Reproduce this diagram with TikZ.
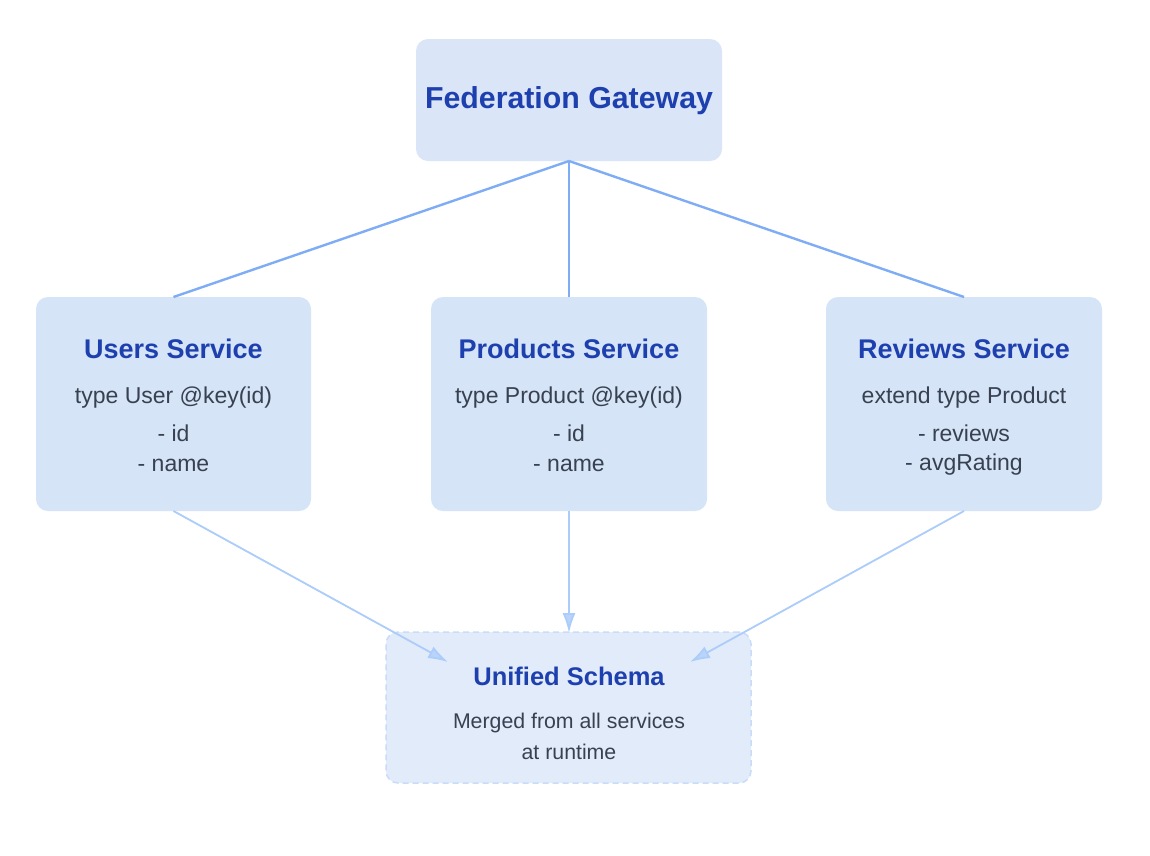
\documentclass[tikz,border=0pt]{standalone}
\usepackage{fontspec}
\setmainfont{Liberation Sans}
\usetikzlibrary{arrows.meta}
\definecolor{boxfill}{HTML}{D6E4F7}
\definecolor{gwfill}{HTML}{DAE5F8}
\definecolor{unifill}{HTML}{E1EBFA}
\definecolor{uniborder}{HTML}{C9DCF8}
\definecolor{titlecol}{HTML}{1E40AF}
\definecolor{bodycol}{HTML}{374151}
\definecolor{topline}{HTML}{7FADF5}
\definecolor{botline}{HTML}{ACCCF9}
\tikzset{
  card/.style={draw=none, fill=boxfill, rounded corners=12pt, inner sep=0pt},
  ttl/.style={text=titlecol, font=\fontsize{27}{32}\selectfont\bfseries, inner sep=0pt, anchor=center},
  bdy/.style={text=bodycol, font=\fontsize{23}{27}\selectfont, inner sep=0pt, anchor=center},
  ubdy/.style={text=bodycol, font=\fontsize{21.3}{25}\selectfont, inner sep=0pt, anchor=center},
  link/.style={draw=topline, line width=2.4pt},
  flow/.style={draw=botline, line width=1.8pt, -{Latex[length=20pt,width=13pt,fill=botline!85!white]}},
}
\begin{document}
\begin{tikzpicture}[x=1pt,y=-1pt]
\useasboundingbox (0,0) rectangle (1150,855);
\fill[white] (0,0) rectangle (1150,855);
% boxes
\node[card, fill=gwfill, minimum width=306pt, minimum height=122pt] (gw) at (569,100) {};
\node[card, minimum width=275pt, minimum height=214pt] (us) at (173.5,404) {};
\node[card, minimum width=276pt, minimum height=214pt] (ps) at (569,404) {};
\node[card, minimum width=276pt, minimum height=214pt] (rs) at (964,404) {};
\node[card, fill=unifill, draw=uniborder, dashed, dash pattern=on 6pt off 4pt, line width=1.5pt, minimum width=365pt, minimum height=151pt] (un) at (568.5,707.5) {};
% connector endpoints
\coordinate (gwb) at (569,161);
\coordinate (ust) at (173.5,297);
\coordinate (pst) at (569,297);
\coordinate (rst) at (964,297);
\coordinate (usb) at (173.5,511);
\coordinate (psb) at (569,511);
\coordinate (rsb) at (964,511);
\coordinate (unl) at (448,662);
\coordinate (unt) at (569,633);
\coordinate (unr) at (690,662);
\draw[link] (gwb) -- (ust);
\draw[link] (gwb) -- (pst);
\draw[link] (gwb) -- (rst);
\draw[flow] (usb) -- (unl);
\draw[flow] (psb) -- (unt);
\draw[flow] (rsb) -- (unr);
% texts
\node[ttl, font=\fontsize{30.3}{35}\selectfont\bfseries] (gwt) at (569,101) {Federation Gateway};
\node[ttl] (ust1) at (173.5,349) {Users Service};
\node[bdy] (usb1) at (173.5,398) {type User @key(id)};
\node[bdy] (usb2) at (173.5,433) {- id};
\node[bdy] (usb3) at (173.5,465) {- name};
\node[ttl] (pst1) at (569,349) {Products Service};
\node[bdy] (psb1) at (569,398) {type Product @key(id)};
\node[bdy] (psb2) at (569,433) {- id};
\node[bdy] (psb3) at (569,465) {- name};
\node[ttl] (rst1) at (964,349) {Reviews Service};
\node[bdy] (rsb1) at (964,398) {extend type Product};
\node[bdy] (rsb2) at (964,433) {- reviews};
\node[bdy] (rsb3) at (964,465) {- avgRating};
\node[ttl, font=\fontsize{25.5}{30}\selectfont\bfseries] (unt1) at (569,676) {Unified Schema};
\node[ubdy] (unb1) at (569,723) {Merged from all services};
\node[ubdy] (unb2) at (569,752) {at runtime};
\end{tikzpicture}
\end{document}
